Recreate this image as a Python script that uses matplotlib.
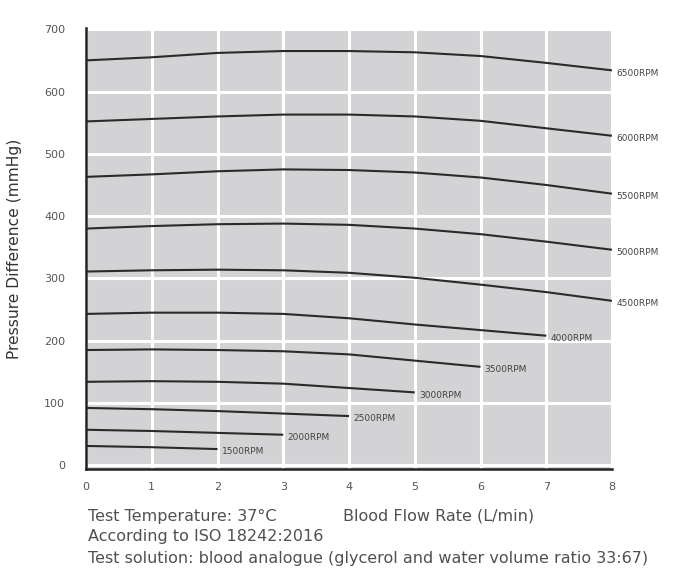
import matplotlib
matplotlib.use("Agg")
import matplotlib.pyplot as plt
import numpy as np

speeds = ["1500RPM", "2000RPM", "2500RPM", "3000RPM", "3500RPM", "4000RPM",
          "4500RPM", "5000RPM", "5500RPM", "6000RPM", "6500RPM"]
flow_1500 = [0, 1, 2]
p_1500 = [31, 29, 26]
flow_2000 = [0, 1, 2, 3]
p_2000 = [57, 55, 52, 49]
flow_2500 = [0, 1, 2, 3, 4]
p_2500 = [92, 90, 87, 83, 79]
flow_3000 = [0, 1, 2, 3, 4, 5]
p_3000 = [134, 135, 134, 131, 124, 117]
flow_3500 = [0, 1, 2, 3, 4, 5, 6]
p_3500 = [185, 186, 185, 183, 178, 168, 158]
flow_4000 = [0, 1, 2, 3, 4, 5, 6, 7]
p_4000 = [243, 245, 245, 243, 236, 226, 217, 208]
flow_full = [0, 1, 2, 3, 4, 5, 6, 7, 8]
p_4500 = [311, 313, 314, 313, 309, 301, 290, 278, 264]
p_5000 = [380, 384, 387, 388, 386, 380, 371, 359, 346]
p_5500 = [463, 467, 472, 475, 474, 470, 462, 450, 436]
p_6000 = [552, 556, 560, 563, 563, 560, 553, 541, 529]
p_6500 = [650, 655, 662, 665, 665, 663, 657, 646, 634]

series = [
    (flow_1500, p_1500), (flow_2000, p_2000), (flow_2500, p_2500),
    (flow_3000, p_3000), (flow_3500, p_3500), (flow_4000, p_4000),
    (flow_full, p_4500), (flow_full, p_5000), (flow_full, p_5500),
    (flow_full, p_6000), (flow_full, p_6500),
]

x_ticks = [0, 1, 2, 3, 4, 5, 6, 7, 8]
y_ticks = [0, 100, 200, 300, 400, 500, 600, 700]

fig = plt.figure(figsize=(6.84, 5.73), dpi=100)
ax = fig.add_axes([86/684, 1 - 469/573, (612-86)/684, (469-28)/573])
ax.set_facecolor("#d3d3d5")
ax.set_xlim(0, 8)
ax.set_ylim(-6, 702)
ax.set_xticks(x_ticks)
ax.set_yticks(y_ticks)
ax.grid(True, color="white", linewidth=2.2)
ax.set_axisbelow(True)
ax.tick_params(axis="x", length=0, labelsize=8, colors="#555555", pad=9)
ax.tick_params(axis="y", length=0, labelsize=8, colors="#555555", pad=15)
for s in ["top", "right"]:
    ax.spines[s].set_visible(False)
for s in ["left", "bottom"]:
    ax.spines[s].set_color("#222222")
    ax.spines[s].set_linewidth(1.8)

for name, (xs, ys) in zip(speeds, series):
    ax.plot(xs, ys, color="#2a2a2a", linewidth=1.5, solid_capstyle="butt")
    ax.annotate(name, (xs[-1], ys[-1]), xytext=(3, -2), textcoords="offset points",
                fontsize=6.5, color="#444444", va="center", ha="left",
                annotation_clip=False)

ax.set_ylabel("Pressure Difference (mmHg)", fontsize=11.2, color="#333333", labelpad=16)

tcol = "#505050"
tsize = 11.5
fig.text(88/684, 1 - 516/573, "Test Temperature: 37\u00b0C", fontsize=tsize, color=tcol, va="center")
fig.text(343/684, 1 - 516/573, "Blood Flow Rate (L/min)", fontsize=tsize, color=tcol, va="center")
fig.text(88/684, 1 - 537/573, "According to ISO 18242:2016", fontsize=tsize, color=tcol, va="center")
fig.text(88/684, 1 - 558/573, "Test solution: blood analogue (glycerol and water volume ratio 33:67)",
         fontsize=tsize, color=tcol, va="center")

fig.savefig("out.png", dpi=100)
